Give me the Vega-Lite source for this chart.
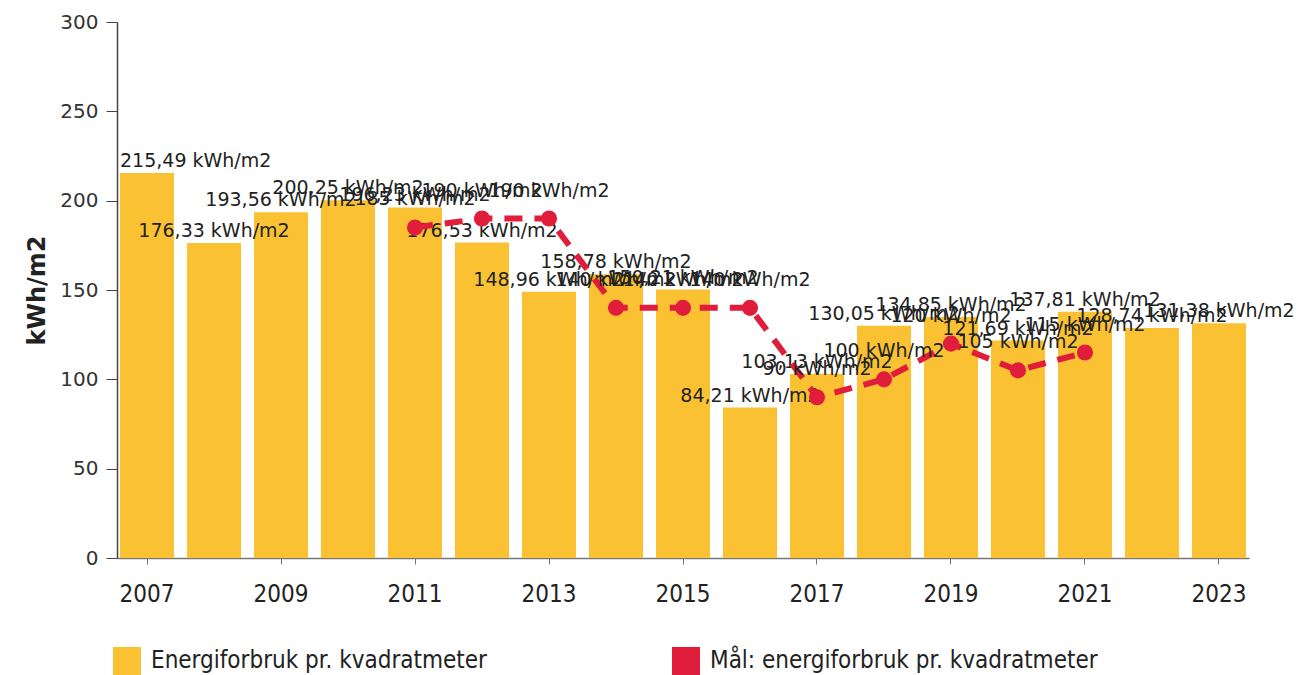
{
  "$schema": "https://vega.github.io/schema/vega-lite/v6.json",
  "width": 1132,
  "height": 536,
  "autosize": {"type": "none"},
  "padding": {"left": 117, "top": 22, "right": 57, "bottom": 117},
  "background": "white",
  "config": {"view": {"stroke": null}, "font": "DejaVu Sans"},
  "data": {
    "values": [
      {"year": 2007, "value": 215.49, "label": "215,49 kWh/m2", "target": null, "tlabel": null},
      {"year": 2008, "value": 176.33, "label": "176,33 kWh/m2", "target": null, "tlabel": null},
      {"year": 2009, "value": 193.56, "label": "193,56 kWh/m2", "target": null, "tlabel": null},
      {"year": 2010, "value": 200.25, "label": "200,25 kWh/m2", "target": null, "tlabel": null},
      {"year": 2011, "value": 196.23, "label": "196,23 kWh/m2", "target": 185, "tlabel": "185 kWh/m2"},
      {"year": 2012, "value": 176.53, "label": "176,53 kWh/m2", "target": 190, "tlabel": "190 kWh/m2"},
      {"year": 2013, "value": 148.96, "label": "148,96 kWh/m2", "target": 190, "tlabel": "190 kWh/m2"},
      {"year": 2014, "value": 158.78, "label": "158,78 kWh/m2", "target": 140, "tlabel": "140 kWh/m2"},
      {"year": 2015, "value": 150.21, "label": "150,21 kWh/m2", "target": 140, "tlabel": "140 kWh/m2"},
      {"year": 2016, "value": 84.21, "label": "84,21 kWh/m2", "target": 140, "tlabel": "140 kWh/m2"},
      {"year": 2017, "value": 103.13, "label": "103,13 kWh/m2", "target": 90, "tlabel": "90 kWh/m2"},
      {"year": 2018, "value": 130.05, "label": "130,05 kWh/m2", "target": 100, "tlabel": "100 kWh/m2"},
      {"year": 2019, "value": 134.85, "label": "134,85 kWh/m2", "target": 120, "tlabel": "120 kWh/m2"},
      {"year": 2020, "value": 121.69, "label": "121,69 kWh/m2", "target": 105, "tlabel": "105 kWh/m2"},
      {"year": 2021, "value": 137.81, "label": "137,81 kWh/m2", "target": 115, "tlabel": "115 kWh/m2"},
      {"year": 2022, "value": 128.74, "label": "128,74 kWh/m2", "target": null, "tlabel": null},
      {"year": 2023, "value": 131.38, "label": "131,38 kWh/m2", "target": null, "tlabel": null}
    ]
  },
  "encoding": {
    "x": {
      "field": "year",
      "type": "ordinal",
      "scale": {"paddingInner": 0.194, "paddingOuter": 0.045},
      "axis": {
        "title": null,
        "values": [2007, 2009, 2011, 2013, 2015, 2017, 2019, 2021, 2023],
        "labelAngle": 0,
        "labelFont": "DejaVu Sans Condensed",
        "labelFontSize": 24,
        "labelColor": "#222222",
        "labelPadding": 18,
        "domainColor": "#777777",
        "domainWidth": 1.5,
        "tickColor": "#777777",
        "tickSize": 6,
        "grid": false
      }
    }
  },
  "layer": [
    {
      "mark": {"type": "bar", "opacity": 1},
      "encoding": {
        "y": {
          "field": "value",
          "type": "quantitative",
          "scale": {"domain": [0, 300], "nice": false},
          "axis": {
            "title": "kWh/m2",
            "titleFont": "DejaVu Sans",
            "titleFontSize": 24,
            "titleFontWeight": "bold",
            "titleColor": "#222222",
            "titlePadding": 10,
            "values": [0, 50, 100, 150, 200, 250, 300],
            "labelFont": "DejaVu Sans",
            "labelFontSize": 20,
            "labelColor": "#333333",
            "labelPadding": 8,
            "domainColor": "#444444",
            "domainWidth": 1.5,
            "tickColor": "#444444",
            "tickSize": 11,
            "grid": false
          }
        },
        "color": {
          "datum": "Energiforbruk pr. kvadratmeter",
          "scale": {
            "domain": ["Energiforbruk pr. kvadratmeter", "Mål: energiforbruk pr. kvadratmeter"],
            "range": ["#FAC232", "#E01E3C"]
          },
          "legend": {
            "title": null,
            "orient": "none",
            "direction": "horizontal",
            "legendX": -4,
            "legendY": 625,
            "symbolType": "square",
            "symbolSize": 784,
            "symbolStrokeWidth": 0,
            "symbolOpacity": 1,
            "labelFont": "DejaVu Sans Condensed",
            "labelFontSize": 24,
            "labelColor": "#222222",
            "labelOffset": 10,
            "labelLimit": 500,
            "columnPadding": 185,
            "padding": 0
          }
        }
      }
    },
    {
      "transform": [{"filter": "datum.year != 2007"}],
      "mark": {"type": "text", "baseline": "alphabetic", "dy": -6, "fontSize": 19, "font": "DejaVu Sans", "color": "#222222"},
      "encoding": {
        "y": {"field": "value", "type": "quantitative"},
        "text": {"field": "label"}
      }
    },
    {
      "transform": [{"filter": "datum.year == 2007"}],
      "mark": {"type": "text", "align": "left", "baseline": "alphabetic", "dx": -27, "dy": -6, "fontSize": 19, "font": "DejaVu Sans", "color": "#222222"},
      "encoding": {
        "y": {"field": "value", "type": "quantitative"},
        "text": {"field": "label"}
      }
    },
    {
      "transform": [{"filter": "datum.target != null"}],
      "mark": {"type": "line", "color": "#E01E3C", "strokeWidth": 6, "strokeDash": [18, 12]},
      "encoding": {
        "y": {"field": "target", "type": "quantitative"}
      }
    },
    {
      "transform": [{"filter": "datum.target != null"}],
      "mark": {"type": "point", "filled": true, "shape": "circle", "size": 260, "color": "#E01E3C", "opacity": 1},
      "encoding": {
        "y": {"field": "target", "type": "quantitative"}
      }
    },
    {
      "transform": [{"filter": "datum.target != null"}],
      "mark": {"type": "text", "baseline": "alphabetic", "dy": -22, "fontSize": 19, "font": "DejaVu Sans", "color": "#222222"},
      "encoding": {
        "y": {"field": "target", "type": "quantitative"},
        "text": {"field": "tlabel"}
      }
    }
  ]
}
